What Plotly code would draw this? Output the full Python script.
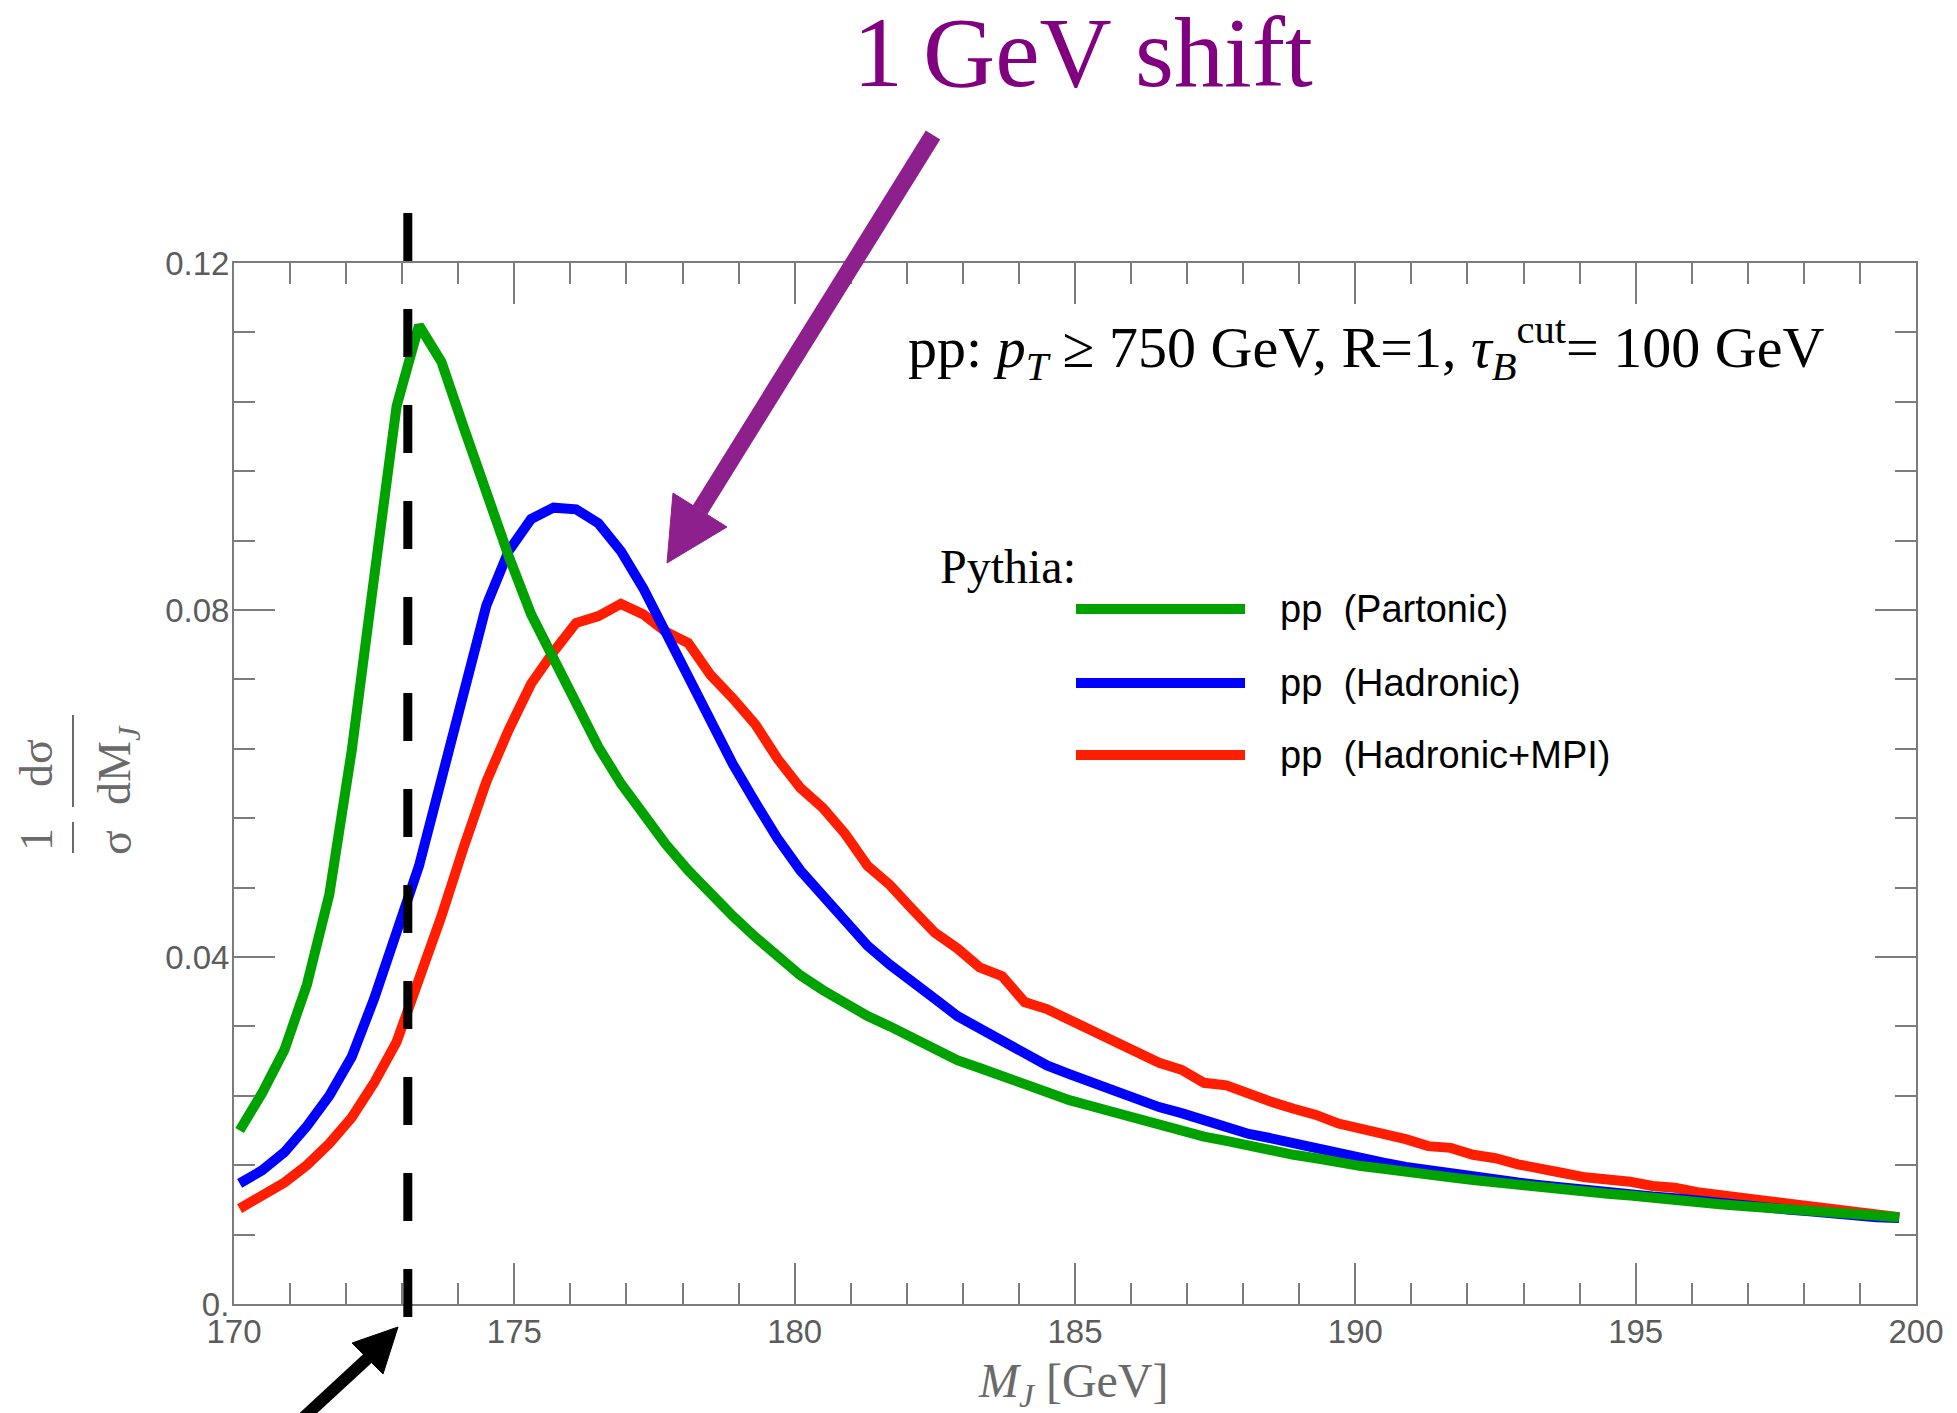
import plotly.graph_objects as go

# Jet-mass bin centres [GeV]
mass_gev = [170.1, 170.5, 170.9, 171.3, 171.7, 172.1, 172.5, 172.9, 173.3, 173.7,
            174.1, 174.5, 174.9, 175.3, 175.7, 176.1, 176.5, 176.9, 177.3, 177.7,
            178.1, 178.5, 178.9, 179.3, 179.7, 180.1, 180.5, 180.9, 181.3, 181.7,
            182.1, 182.5, 182.9, 183.3, 183.7, 184.1, 184.5, 184.9, 185.3, 185.7,
            186.1, 186.5, 186.9, 187.3, 187.7, 188.1, 188.5, 188.9, 189.3, 189.7,
            190.1, 190.5, 190.9, 191.3, 191.7, 192.1, 192.5, 192.9, 193.3, 193.7,
            194.1, 194.5, 194.9, 195.3, 195.7, 196.1, 196.5, 196.9, 197.3, 197.7,
            198.1, 198.5, 198.9, 199.3, 199.7]

# Normalised distributions (1/sigma dsigma/dM_J)
partonic = [0.0200, 0.0243, 0.0293, 0.0368, 0.0472, 0.0638, 0.0838, 0.1035, 0.1128, 0.1086,
            0.1010, 0.0935, 0.0862, 0.0795, 0.0742, 0.0690, 0.0642, 0.0600, 0.0565, 0.0530,
            0.0500, 0.0472, 0.0447, 0.0423, 0.0402, 0.0379, 0.0362, 0.0346, 0.0332, 0.0320,
            0.0306, 0.0294, 0.0281, 0.0272, 0.0262, 0.0252, 0.0243, 0.0235, 0.0228, 0.0221,
            0.0214, 0.0206, 0.0200, 0.0193, 0.0188, 0.0182, 0.0177, 0.0172, 0.0168, 0.0163,
            0.0159, 0.0156, 0.0152, 0.0149, 0.0146, 0.0143, 0.0140, 0.0137, 0.0134, 0.0131,
            0.0129, 0.0127, 0.0125, 0.0122, 0.0120, 0.0118, 0.0115, 0.0113, 0.0111, 0.0109,
            0.0107, 0.0105, 0.0103, 0.0101, 0.0100]

hadronic = [0.0139, 0.0154, 0.0175, 0.0205, 0.0240, 0.0285, 0.0352, 0.0425, 0.0505, 0.0605,
            0.0710, 0.0805, 0.0868, 0.0905, 0.0918, 0.0916, 0.0900, 0.0868, 0.0825, 0.0774,
            0.0722, 0.0672, 0.0622, 0.0578, 0.0536, 0.0500, 0.0470, 0.0440, 0.0413, 0.0391,
            0.0370, 0.0352, 0.0332, 0.0318, 0.0303, 0.0288, 0.0275, 0.0265, 0.0255, 0.0246,
            0.0235, 0.0227, 0.0220, 0.0211, 0.0204, 0.0196, 0.0191, 0.0185, 0.0179, 0.0173,
            0.0169, 0.0163, 0.0158, 0.0154, 0.0150, 0.0146, 0.0143, 0.0140, 0.0137, 0.0134,
            0.0131, 0.0129, 0.0127, 0.0124, 0.0122, 0.0119, 0.0116, 0.0114, 0.0112, 0.0109,
            0.0107, 0.0104, 0.0102, 0.0100, 0.0099]

hadronic_mpi = [0.0110, 0.0124, 0.0140, 0.0160, 0.0185, 0.0215, 0.0255, 0.0302, 0.0372, 0.0447,
                0.0527, 0.0602, 0.0662, 0.0715, 0.0752, 0.0785, 0.0793, 0.0807, 0.0795, 0.0775,
                0.0762, 0.0725, 0.0698, 0.0668, 0.0628, 0.0595, 0.0572, 0.0542, 0.0505, 0.0483,
                0.0455, 0.0428, 0.0410, 0.0388, 0.0378, 0.0348, 0.0340, 0.0328, 0.0316, 0.0303,
                0.0290, 0.0278, 0.0270, 0.0255, 0.0252, 0.0241, 0.0233, 0.0225, 0.0218, 0.0208,
                0.0202, 0.0198, 0.0190, 0.0182, 0.0180, 0.0172, 0.0168, 0.0161, 0.0155, 0.0151,
                0.0146, 0.0144, 0.0141, 0.0136, 0.0134, 0.0129, 0.0125, 0.0122, 0.0119, 0.0116,
                0.0113, 0.0110, 0.0107, 0.0104, 0.0100]

top_mass = 173.1

series_labels = ["pp\u00a0 (Partonic)", "pp\u00a0 (Hadronic)", "pp\u00a0 (Hadronic+MPI)"]
series_colors = ["#00A200", "#0000FF", "#FF1E00"]

x_tick_vals = [170, 175, 180, 185, 190, 195, 200]
x_tick_text = ["170", "175", "180", "185", "190", "195", "200"]
y_tick_vals = [0, 0.04, 0.08, 0.12]
y_tick_text = ["0.", "0.04", "0.08", "0.12"]

W, H = 1957, 1413
ML, MR, MT, MB = 234, 41, 263, 109

FRAME = "#7c7c7c"
LABEL = "#5c5c5c"
TITLE_GRAY = "#6a6a6a"
PURPLE = "#8E208E"
SERIF = "Liberation Serif, Times New Roman, serif"
SANS = "Liberation Sans, Arial, sans-serif"


def px(x):
    """Pixel column -> paper x."""
    return (x - ML) / (W - ML - MR)


def py(y):
    """Pixel row -> paper y."""
    return (H - MB - y) / (H - MB - MT)


fig = go.Figure()

# Drawn back to front: MPI, hadronic, partonic
for vals, name, col in [(hadronic_mpi, series_labels[2], series_colors[2]),
                        (hadronic, series_labels[1], series_colors[1]),
                        (partonic, series_labels[0], series_colors[0])]:
    fig.add_trace(go.Scatter(x=mass_gev, y=vals, mode="lines", name=name,
                             line=dict(color=col, width=10), showlegend=False))

axis_common = dict(showline=True, linecolor=FRAME, linewidth=2, mirror="allticks",
                   ticks="inside", tickcolor=FRAME, tickwidth=2, ticklen=41,
                   showgrid=False, zeroline=False,
                   tickfont=dict(family=SANS, size=33, color=LABEL))

fig.update_xaxes(range=[170, 200], tickmode="array", tickvals=x_tick_vals,
                 ticktext=x_tick_text, ticklabelstandoff=-3,
                 minor=dict(ticks="inside", dtick=1, tick0=170, ticklen=21,
                            tickwidth=2, tickcolor=FRAME),
                 **axis_common)
fig.update_yaxes(range=[0, 0.12], tickmode="array", tickvals=y_tick_vals,
                 ticktext=y_tick_text, ticklabelstandoff=-4,
                 minor=dict(ticks="inside", dtick=0.008, tick0=0, ticklen=21,
                            tickwidth=2, tickcolor=FRAME),
                 **axis_common)

shapes = []

# Top-mass reference line
shapes.append(dict(type="line", xref="x", yref="paper", x0=top_mass, x1=top_mass,
                   y0=py(213), y1=py(1317), layer="above",
                   line=dict(color="black", width=9, dash="48px,48px")))

# Legend swatches
for row_y, col in zip([609, 683, 755], series_colors):
    shapes.append(dict(type="line", xref="paper", yref="paper",
                       x0=px(1076), x1=px(1245), y0=py(row_y), y1=py(row_y),
                       line=dict(color=col, width=10)))

# Purple arrow: shaft + head
shapes.append(dict(type="line", xref="paper", yref="paper",
                   x0=px(933), y0=py(135), x1=px(700), y1=py(510),
                   line=dict(color=PURPLE, width=17)))
shapes.append(dict(type="path", xref="paper", yref="paper",
                   path=f"M {px(667)},{py(563)} L {px(673)},{py(493)} L {px(727)},{py(527)} Z",
                   fillcolor=PURPLE, line=dict(color=PURPLE, width=1)))

# Black arrow at the bottom: shaft + head
shapes.append(dict(type="line", xref="paper", yref="paper",
                   x0=px(290), y0=py(1430), x1=px(368), y1=py(1358),
                   line=dict(color="black", width=12)))
shapes.append(dict(type="path", xref="paper", yref="paper",
                   path=f"M {px(398)},{py(1327)} L {px(352)},{py(1343)} L {px(383)},{py(1374)} Z",
                   fillcolor="black", line=dict(color="black", width=1)))

annotations = []


def note(text, x, y, size, color, family, xanchor="left", yanchor="middle", angle=0):
    annotations.append(dict(text=text, xref="paper", yref="paper", x=px(x), y=py(y),
                            xanchor=xanchor, yanchor=yanchor, showarrow=False,
                            textangle=angle, borderpad=0,
                            font=dict(size=size, color=color, family=family)))


note("1\u2009GeV shift", 1083, 52, 100, "#800080", SERIF, xanchor="center")
note("pp: <i>p</i><sub><i>T</i></sub> \u2265 750 GeV, R=1, <i>\u03c4</i><sub><i>B</i></sub>"
     "<sup>cut</sup>= 100 GeV", 907, 348, 58, "black", SERIF)
note("Pythia:", 939, 566, 48, "black", SERIF)
for row_y, lab in zip([609, 683, 755], series_labels):
    note(lab, 1279, row_y, 38, "black", SANS)

# Axis titles
note("<i>M</i><sub><i>J</i></sub> [GeV]", 1073, 1384, 48, TITLE_GRAY, SERIF, xanchor="center")
note("1", 36, 840, 46, TITLE_GRAY, SERIF, xanchor="center", angle=-90)
note("\u03c3", 115, 842, 46, TITLE_GRAY, SERIF, xanchor="center", angle=-90)
note("d\u03c3", 36, 763, 46, TITLE_GRAY, SERIF, xanchor="center", angle=-90)
note("dM<sub><i>J</i></sub>", 118, 765, 46, TITLE_GRAY, SERIF, xanchor="center", angle=-90)
shapes.append(dict(type="line", xref="paper", yref="paper", x0=px(73), x1=px(73),
                   y0=py(822), y1=py(853), line=dict(color=TITLE_GRAY, width=2)))
shapes.append(dict(type="line", xref="paper", yref="paper", x0=px(73), x1=px(73),
                   y0=py(715), y1=py(807), line=dict(color=TITLE_GRAY, width=2)))

fig.update_layout(width=W, height=H, margin=dict(l=ML, r=MR, t=MT, b=MB),
                  paper_bgcolor="white", plot_bgcolor="white",
                  shapes=shapes, annotations=annotations, showlegend=False)

fig.write_html("out.html")
